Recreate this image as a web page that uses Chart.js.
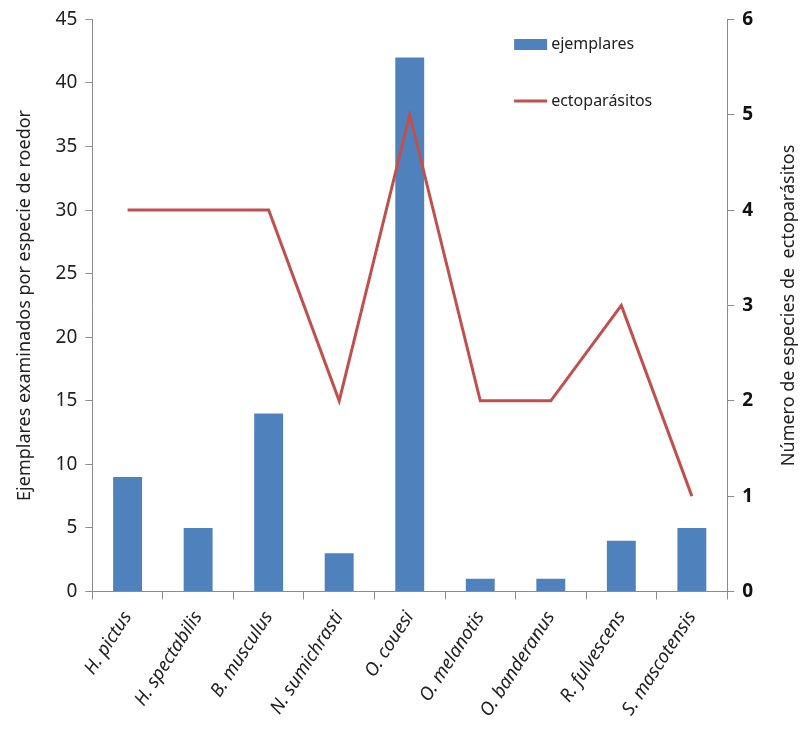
<!DOCTYPE html>
<html>
<head>
<meta charset="utf-8">
<script src="https://cdn.jsdelivr.net/npm/chart.js@4.4.0/dist/chart.umd.min.js"></script>
<style>
  html, body { margin: 0; padding: 0; background: #fff; }
  #wrap { width: 801px; height: 729px; position: relative; }
</style>
</head>
<body>
<div id="wrap"><canvas id="myChart"></canvas></div>
<script>
var especies = ['H. pictus', 'H. spectabilis', 'B. musculus', 'N. sumichrasti', 'O. couesi',
    'O. melanotis', 'O. banderanus', 'R. fulvescens', 'S. mascotensis'];
var ejemplares = [9, 5, 14, 3, 42, 1, 1, 4, 5];
var ectoparasitos = [4, 4, 4, 2, 5, 2, 2, 3, 1];

var FONT = "'Noto Sans', sans-serif";
var AXIS_GRAY = '#8c8c8c';

// leyenda dentro del area y titulo derecho leido de abajo hacia arriba
var extras = {
    id: 'extras',
    afterDraw: function (chart) {
        var c = chart.ctx, a = chart.chartArea;
        c.save();
        var lx = a.right - 213;
        c.fillStyle = '#4F81BD';
        c.fillRect(lx, 39, 33, 11);
        c.strokeStyle = '#C0504D';
        c.lineWidth = 3;
        c.beginPath();
        c.moveTo(lx, 101);
        c.lineTo(lx + 33, 101);
        c.stroke();
        c.fillStyle = '#222';
        c.font = '16px ' + FONT;
        c.textBaseline = 'middle';
        c.fillText('ejemplares', lx + 37, 44);
        c.fillText('ectoparásitos', lx + 37, 101);

        c.translate(789, (a.top + a.bottom) / 2);
        c.rotate(-Math.PI / 2);
        c.textAlign = 'center';
        c.font = '18px ' + FONT;
        c.fillText('Número de especies de  ectoparásitos', 0, 0);
        c.restore();
    }
};

var ctx = document.getElementById('myChart').getContext('2d');
var myChart = new Chart(ctx, {
    data: {
        labels: especies,
        datasets: [{
            type: 'line',
            label: 'ectoparásitos',
            data: ectoparasitos,
            yAxisID: 'y1',
            borderColor: '#C0504D',
            borderWidth: 3,
            pointRadius: 0,
            tension: 0,
            order: 0
        }, {
            type: 'bar',
            label: 'ejemplares',
            data: ejemplares,
            yAxisID: 'y',
            backgroundColor: '#4F81BD',
            barPercentage: 1,
            categoryPercentage: 0.41,
            order: 1
        }]
    },
    options: {
        responsive: true,
        maintainAspectRatio: false,
        animation: false,
        layout: { padding: { left: 14, right: 40, top: 12, bottom: 0 } },
        plugins: { legend: { display: false }, tooltip: { enabled: false } },
        scales: {
            x: {
                grid: { offset: true, drawOnChartArea: false, drawTicks: true, tickLength: 8, color: AXIS_GRAY },
                border: { color: AXIS_GRAY },
                ticks: {
                    color: '#222', maxRotation: 57, minRotation: 57, padding: 8,
                    font: { family: FONT, size: 18.5, style: 'italic' }
                }
            },
            y: {
                position: 'left',
                min: 0, max: 45,
                grid: { drawOnChartArea: false, tickLength: 7, color: AXIS_GRAY },
                border: { color: AXIS_GRAY },
                ticks: { stepSize: 5, color: '#222', padding: 8, font: { family: FONT, size: 19 } },
                title: {
                    display: true, text: 'Ejemplares examinados por especie de roedor',
                    color: '#222', font: { family: FONT, size: 18 }, padding: { top: 0, bottom: 12 }
                }
            },
            y1: {
                position: 'right',
                min: 0, max: 6,
                grid: { drawOnChartArea: false, tickLength: 7, color: AXIS_GRAY },
                border: { color: AXIS_GRAY },
                ticks: { stepSize: 1, color: '#111', padding: 8, font: { family: FONT, size: 19, weight: 'bold' } }
            }
        }
    },
    plugins: [extras]
});
</script>
</body>
</html>
